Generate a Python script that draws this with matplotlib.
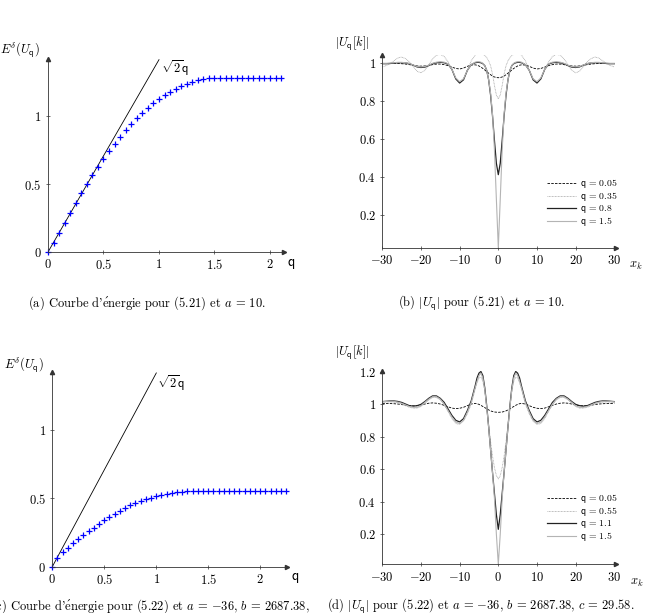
import numpy as np
import matplotlib
matplotlib.use("Agg")
import matplotlib.pyplot as plt

plt.rcParams['mathtext.fontset'] = 'cm'
plt.rcParams['font.family'] = ['cmr10', 'DejaVu Serif']
plt.rcParams['axes.formatter.use_mathtext'] = True

W, H = 647, 613

# ---- energy curves (a) and (c) ----
q_a = np.round(np.arange(43) * 0.05, 2)
E_a = [0.0, 0.068, 0.140, 0.212, 0.286, 0.360, 0.432, 0.500, 0.565, 0.628,
       0.686, 0.743, 0.796, 0.848, 0.896, 0.940, 0.983, 1.022, 1.059, 1.093,
       1.125, 1.153, 1.178, 1.200, 1.220, 1.237, 1.252, 1.264, 1.272, 1.277,
       1.280, 1.281, 1.281, 1.281, 1.281, 1.281, 1.281, 1.281, 1.281, 1.281,
       1.281, 1.281, 1.281]

q_c = np.round(np.arange(46) * 0.05, 2)
E_c = [0.0, 0.060, 0.110, 0.138, 0.170, 0.200, 0.230, 0.260, 0.286, 0.315,
       0.340, 0.364, 0.388, 0.408, 0.427, 0.447, 0.464, 0.478, 0.493, 0.505,
       0.515, 0.524, 0.532, 0.539, 0.544, 0.547, 0.549, 0.551, 0.552, 0.553,
       0.553, 0.553, 0.553, 0.553, 0.553, 0.553, 0.553, 0.553, 0.553, 0.553,
       0.553, 0.553, 0.553, 0.553, 0.553, 0.553]

# ---- profiles (b) and (d) ----
xk = (list(range(-30, -6))
      + [-6, -5.5, -5, -4.5, -4, -3.5, -3, -2.5, -2, -1.5, -1, -0.5,
         0,
         0.5, 1, 1.5, 2, 2.5, 3, 3.5, 4, 4.5, 5, 5.5, 6]
      + list(range(7, 31)))

b_q005 = [0.996, 0.996, 0.996, 0.996, 0.996, 0.995, 0.993, 0.990, 0.987, 0.983, 0.982, 0.983,
          0.986, 0.990, 0.993, 0.993, 0.990, 0.985, 0.977, 0.970, 0.967, 0.972, 0.981, 0.988,
          0.989, 0.987, 0.983, 0.977, 0.970, 0.962, 0.953, 0.945, 0.937, 0.930, 0.925, 0.922,
          0.921,
          0.922, 0.925, 0.930, 0.937, 0.945, 0.953, 0.962, 0.970, 0.977, 0.983, 0.987, 0.989,
          0.988, 0.981, 0.972, 0.967, 0.970, 0.977, 0.985, 0.990, 0.993, 0.993, 0.990, 0.986,
          0.983, 0.982, 0.983, 0.987, 0.990, 0.993, 0.995, 0.996, 0.996, 0.996, 0.996, 0.996]
b_q035 = [0.978, 0.985, 0.995, 1.010, 1.025, 1.030, 1.022, 1.005, 0.980, 0.955, 0.947, 0.960,
          0.990, 1.020, 1.040, 1.044, 1.033, 1.005, 0.965, 0.915, 0.900, 0.915, 0.960, 1.010,
          1.040, 1.048, 1.050, 1.049, 1.045, 1.038, 1.027, 1.010, 0.985, 0.940, 0.880, 0.830,
          0.810,
          0.830, 0.880, 0.940, 0.985, 1.010, 1.027, 1.038, 1.045, 1.049, 1.050, 1.048, 1.040,
          1.010, 0.960, 0.915, 0.900, 0.915, 0.965, 1.005, 1.033, 1.044, 1.040, 1.020, 0.990,
          0.960, 0.947, 0.955, 0.980, 1.005, 1.022, 1.030, 1.025, 1.010, 0.995, 0.985, 0.978]
b_q08 = [0.995, 0.995, 0.996, 0.998, 1.000, 1.000, 0.999, 0.995, 0.987, 0.978, 0.975, 0.977,
         0.985, 0.995, 1.000, 1.002, 1.000, 0.993, 0.965, 0.915, 0.893, 0.910, 0.960, 0.990,
         1.000, 1.002, 1.002, 1.000, 0.995, 0.985, 0.960, 0.910, 0.830, 0.720, 0.590, 0.470,
         0.410,
         0.470, 0.590, 0.720, 0.830, 0.910, 0.960, 0.985, 0.995, 1.000, 1.002, 1.002, 1.000,
         0.990, 0.960, 0.910, 0.893, 0.915, 0.965, 0.993, 1.000, 1.002, 1.000, 0.995, 0.985,
         0.977, 0.975, 0.978, 0.987, 0.995, 0.999, 1.000, 1.000, 0.998, 0.996, 0.995, 0.995]
b_q15 = [0.997, 0.997, 0.998, 1.000, 1.002, 1.002, 1.000, 0.996, 0.988, 0.980, 0.978, 0.980,
         0.987, 0.997, 1.003, 1.005, 1.003, 0.995, 0.965, 0.920, 0.900, 0.915, 0.960, 0.990,
         1.003, 1.005, 1.005, 1.003, 0.997, 0.985, 0.960, 0.910, 0.840, 0.730, 0.540, 0.280,
         0.025,
         0.280, 0.540, 0.730, 0.840, 0.910, 0.960, 0.985, 0.997, 1.003, 1.005, 1.005, 1.003,
         0.990, 0.960, 0.915, 0.900, 0.920, 0.965, 0.995, 1.003, 1.005, 1.003, 0.997, 0.987,
         0.980, 0.978, 0.980, 0.988, 0.996, 1.000, 1.002, 1.002, 1.000, 0.998, 0.997, 0.997]

d_q005 = [1.003, 1.003, 1.003, 1.002, 1.000, 0.997, 0.993, 0.990, 0.989, 0.990, 0.994, 1.000,
          1.005, 1.007, 1.005, 1.000, 0.992, 0.983, 0.975, 0.972, 0.974, 0.980, 0.990, 1.000,
          1.004, 1.002, 0.998, 0.992, 0.985, 0.978, 0.971, 0.964, 0.958, 0.954, 0.951, 0.950,
          0.949,
          0.950, 0.951, 0.954, 0.958, 0.964, 0.971, 0.978, 0.985, 0.992, 0.998, 1.002, 1.004,
          1.000, 0.990, 0.980, 0.974, 0.972, 0.975, 0.983, 0.992, 1.000, 1.005, 1.007, 1.005,
          1.000, 0.994, 0.990, 0.989, 0.990, 0.993, 0.997, 1.000, 1.002, 1.003, 1.003, 1.003]
d_q055 = [1.010, 1.012, 1.013, 1.012, 1.008, 1.000, 0.990, 0.980, 0.975, 0.975, 0.985, 1.005,
          1.025, 1.040, 1.040, 1.025, 0.995, 0.955, 0.910, 0.880, 0.875, 0.895, 0.940, 1.000,
          1.090, 1.130, 1.160, 1.165, 1.140, 1.080, 0.980, 0.870, 0.770, 0.680, 0.610, 0.560,
          0.540,
          0.560, 0.610, 0.680, 0.770, 0.870, 0.980, 1.080, 1.140, 1.165, 1.160, 1.130, 1.090,
          1.000, 0.940, 0.895, 0.875, 0.880, 0.910, 0.955, 0.995, 1.025, 1.040, 1.040, 1.025,
          1.005, 0.985, 0.975, 0.975, 0.980, 0.990, 1.000, 1.008, 1.012, 1.013, 1.012, 1.010]
d_q11 = [1.015, 1.017, 1.019, 1.019, 1.016, 1.010, 1.000, 0.990, 0.987, 0.990, 0.998, 1.015,
         1.035, 1.050, 1.050, 1.035, 1.010, 0.970, 0.930, 0.900, 0.890, 0.910, 0.960, 1.020,
         1.110, 1.160, 1.190, 1.200, 1.175, 1.100, 0.990, 0.860, 0.720, 0.580, 0.450, 0.320,
         0.230,
         0.320, 0.450, 0.580, 0.720, 0.860, 0.990, 1.100, 1.175, 1.200, 1.190, 1.160, 1.110,
         1.020, 0.960, 0.910, 0.890, 0.900, 0.930, 0.970, 1.010, 1.035, 1.050, 1.050, 1.035,
         1.015, 0.998, 0.990, 0.987, 0.990, 1.000, 1.010, 1.016, 1.019, 1.019, 1.017, 1.015]
d_q15 = [1.014, 1.016, 1.017, 1.016, 1.012, 1.005, 0.995, 0.985, 0.980, 0.980, 0.990, 1.010,
         1.030, 1.045, 1.045, 1.030, 1.000, 0.960, 0.920, 0.890, 0.880, 0.900, 0.950, 1.010,
         1.100, 1.140, 1.175, 1.190, 1.160, 1.090, 0.980, 0.860, 0.720, 0.580, 0.420, 0.200,
         0.015,
         0.200, 0.420, 0.580, 0.720, 0.860, 0.980, 1.090, 1.160, 1.190, 1.175, 1.140, 1.100,
         1.010, 0.950, 0.900, 0.880, 0.890, 0.920, 0.960, 1.000, 1.030, 1.045, 1.045, 1.030,
         1.010, 0.990, 0.980, 0.980, 0.985, 0.995, 1.005, 1.012, 1.016, 1.017, 1.016, 1.014]

labels_b = [r'$\mathsf{q}\,=\,0.05$', r'$\mathsf{q}\,=\,0.35$', r'$\mathsf{q}\,=\,0.8$',
            r'$\mathsf{q}\,=\,1.5$']
labels_d = [r'$\mathsf{q}\,=\,0.05$', r'$\mathsf{q}\,=\,0.55$', r'$\mathsf{q}\,=\,1.1$',
            r'$\mathsf{q}\,=\,1.5$']

E_ACUTE = r'$\acute{\mathrm{e}}$'


def px(x, y):
    return x / W, 1 - y / H


def make_axes(fig, x0, y0, width, height):
    # pixel box: (x0, y0) is the axes origin (bottom-left) in image coordinates
    ax = fig.add_axes([x0 / W, 1 - y0 / H, width / W, height / H])
    for s in ['top', 'right']:
        ax.spines[s].set_visible(False)
    for s in ['left', 'bottom']:
        ax.spines[s].set_color('#333333')
        ax.spines[s].set_linewidth(0.6)
    ax.tick_params(direction='inout', length=3, width=0.5, labelsize=9, pad=3, colors='#333333',
                   labelcolor='black')
    ax.plot([1], [0], marker='>', ms=3, color='#333333', transform=ax.transAxes, clip_on=False)
    ax.plot([0], [1], marker='^', ms=3, color='#333333', transform=ax.transAxes, clip_on=False)
    return ax


def legend_at(ax, x, y):
    ax.legend(loc='upper left', bbox_to_anchor=px(x, y), bbox_transform=fig.transFigure,
              frameon=False, fontsize=7, handlelength=3.0, handletextpad=0.4,
              labelspacing=0.0, borderpad=0, borderaxespad=0)


fig = plt.figure(figsize=(W / 100, H / 100), dpi=100)

# (a)
ax = make_axes(fig, 48, 252, 2.13 * 111, 1.42 * 136)
ax.set_xlim(0, 2.13)
ax.set_ylim(0, 1.42)
ax.plot([0, 1], [0, np.sqrt(2)], color='black', lw=0.6)
ax.plot(q_a, E_a, ls='none', marker='+', ms=4.5, mew=0.9, color='blue', clip_on=False)
ax.set_xticks([0, 0.5, 1, 1.5, 2])
ax.set_xticklabels(['$0$', '$0.5$', '$1$', '$1.5$', '$2$'])
ax.set_yticks([0, 0.5, 1])
ax.set_yticklabels(['$0$', '$0.5$', '$1$'])
fig.text(*px(20, 50), r'$E^{\delta}(U_{\mathsf{q}})$', ha='center', va='center', fontsize=9)
fig.text(*px(291, 264), r'$\mathsf{q}$', ha='center', va='center', fontsize=10)
fig.text(*px(161, 68), r'$\sqrt{2}\mathsf{q}$', ha='left', va='center', fontsize=9)
fig.text(*px(147, 303), "(a) Courbe d'" + E_ACUTE + r"nergie pour (5.21) et $a\,=\,10$.",
         ha='center', va='center', fontsize=9)

# (c)
ax = make_axes(fig, 52.3, 566.7, 2.26 * 104, 1.42 * 137)
ax.set_xlim(0, 2.26)
ax.set_ylim(0, 1.42)
ax.plot([0, 1], [0, np.sqrt(2)], color='black', lw=0.6)
ax.plot(q_c, E_c, ls='none', marker='+', ms=4.5, mew=0.9, color='blue', clip_on=False)
ax.set_xticks([0, 0.5, 1, 1.5, 2])
ax.set_xticklabels(['$0$', '$0.5$', '$1$', '$1.5$', '$2$'])
ax.set_yticks([0, 0.5, 1])
ax.set_yticklabels(['$0$', '$0.5$', '$1$'])
fig.text(*px(24, 365), r'$E^{\delta}(U_{\mathsf{q}})$', ha='center', va='center', fontsize=9)
fig.text(*px(295, 578), r'$\mathsf{q}$', ha='center', va='center', fontsize=10)
fig.text(*px(157, 383), r'$\sqrt{2}\mathsf{q}$', ha='left', va='center', fontsize=9)
fig.text(*px(310, 606), "(c) Courbe d'" + E_ACUTE
         + r"nergie pour (5.22) et $a\,=\,{-36}$, $b\,=\,2687.38$,",
         ha='right', va='center', fontsize=9)

# (b)
ax = make_axes(fig, 382.3, 247.7, 60.5 * 3.867, 1.015 * 189.7)
ax.set_xlim(-30, 30.5)
ax.set_ylim(0.025, 1.04)
ax.plot(xk, b_q005, color='black', lw=0.6, ls=(0, (3, 1.5)), label=labels_b[0])
ax.plot(xk, b_q035, color='#a8a8a8', lw=0.6, ls=(0, (1, 0.8)), label=labels_b[1])
ax.plot(xk, b_q08, color='#222222', lw=0.9, label=labels_b[2])
ax.plot(xk, b_q15, color='#b4b4b4', lw=0.8, label=labels_b[3])
ax.set_xticks([-30, -20, -10, 0, 10, 20, 30])
ax.set_xticklabels(['$-30$', '$-20$', '$-10$', '$0$', '$10$', '$20$', '$30$'])
ax.set_yticks([0.2, 0.4, 0.6, 0.8, 1])
ax.set_yticklabels(['$0.2$', '$0.4$', '$0.6$', '$0.8$', '$1$'])
legend_at(ax, 547, 177)
fig.text(*px(352, 44), r'$|U_{\mathsf{q}}[k]|$', ha='center', va='center', fontsize=9)
fig.text(*px(636, 266), r'$x_k$', ha='center', va='center', fontsize=9)
fig.text(*px(481, 303), r"(b) $|U_{\mathsf{q}}|$ pour (5.21) et $a\,=\,10$.", ha='center',
         va='center', fontsize=9)

# (d)
ax = make_axes(fig, 382.3, 564.3, 60.5 * 3.867, 1.19 * 162.7)
ax.set_xlim(-30, 30.5)
ax.set_ylim(0.015, 1.205)
ax.plot(xk, d_q005, color='black', lw=0.6, ls=(0, (3, 1.5)), label=labels_d[0])
ax.plot(xk, d_q055, color='#a8a8a8', lw=0.6, ls=(0, (1, 0.8)), label=labels_d[1])
ax.plot(xk, d_q11, color='#222222', lw=0.9, label=labels_d[2])
ax.plot(xk, d_q15, color='#b4b4b4', lw=0.8, label=labels_d[3])
ax.set_xticks([-30, -20, -10, 0, 10, 20, 30])
ax.set_xticklabels(['$-30$', '$-20$', '$-10$', '$0$', '$10$', '$20$', '$30$'])
ax.set_yticks([0.2, 0.4, 0.6, 0.8, 1, 1.2])
ax.set_yticklabels(['$0.2$', '$0.4$', '$0.6$', '$0.8$', '$1$', '$1.2$'])
legend_at(ax, 547, 492)
fig.text(*px(352, 353), r'$|U_{\mathsf{q}}[k]|$', ha='center', va='center', fontsize=9)
fig.text(*px(637, 583), r'$x_k$', ha='center', va='center', fontsize=9)
fig.text(*px(327, 606),
         r"(d) $|U_{\mathsf{q}}|$ pour (5.22) et $a\,=\,{-36}$, $b\,=\,2687.38$, $c\,=\,29.58$.",
         ha='left', va='center', fontsize=9)

fig.savefig('out.png', dpi=100)
